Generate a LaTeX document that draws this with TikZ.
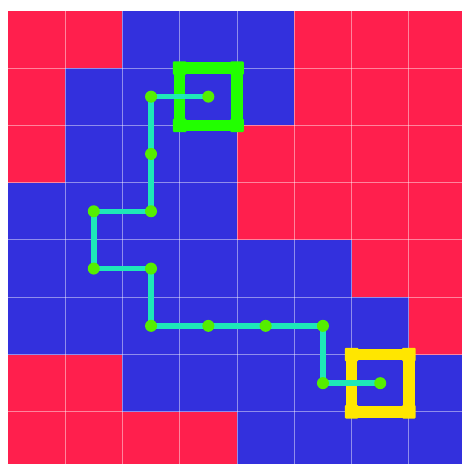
\documentclass[tikz,border=0pt]{standalone}
\definecolor{cellred}{RGB}{255,31,77}
\definecolor{cellblue}{RGB}{51,48,221}
\definecolor{pathteal}{RGB}{30,232,184}
\definecolor{dotgreen}{RGB}{85,238,0}
\definecolor{boxgreen}{RGB}{34,255,0}
\definecolor{boxyellow}{RGB}{255,230,0}
\tikzset{
  dotnode/.style={circle,fill=dotgreen,inner sep=0pt,minimum size=12pt},
  route/.style={draw=pathteal,line width=5.5pt},
  gridline/.style={draw=white,draw opacity=0.45,line width=0.9pt},
  markbox/.style={line width=11.5pt},
  corner/.style={rectangle,inner sep=0pt,minimum size=13.5pt,rounded corners=1pt}
}
\begin{document}
\begin{tikzpicture}[x=1pt,y=-1pt]
\useasboundingbox (0,0) rectangle (462,464);
\fill[white] (0,0) rectangle (462,464);
\clip (0,0) rectangle (462,464);
\begin{scope}[shift={(7.8,10.7)},x=57.3pt,y=-57.3pt]
% cells: rows top to bottom
\foreach \row/\cols in {0/{R,R,B,B,B,R,R,R},1/{R,B,B,B,B,R,R,R},2/{R,B,B,B,R,R,R,R},3/{B,B,B,B,R,R,R,R},4/{B,B,B,B,B,B,R,R},5/{B,B,B,B,B,B,B,R},6/{R,R,B,B,B,B,B,B},7/{R,R,R,R,B,B,B,B}}{
  \foreach \c [count=\i from 0] in \cols {
    \if\c R\def\cc{cellred}\else\def\cc{cellblue}\fi
    \fill[\cc] (\i,\row) rectangle (\i+1,\row+1);
  }
}
\foreach \k in {0,...,8}{
  \draw[gridline] (\k,0) -- (\k,8.2);
  \draw[gridline] (0,\k) -- (8.2,\k);
}
% green goal box
\draw[markbox,draw=boxgreen] (3,1) rectangle (4,2);
\foreach \p [count=\n] in {(3,1),(4,1),(4,2),(3,2)}
  \node[corner,fill=boxgreen] (g\n) at \p {};
% yellow box
\draw[markbox,draw=boxyellow] (6,6) rectangle (7,7);
\foreach \p [count=\n] in {(6,6),(7,6),(7,7),(6,7)}
  \node[corner,fill=boxyellow] (y\n) at \p {};
% path points
\coordinate (p1) at (3.5,1.5);
\coordinate (p2) at (2.5,1.5);
\coordinate (p3) at (2.5,2.5);
\coordinate (p4) at (2.5,3.5);
\coordinate (p5) at (1.5,3.5);
\coordinate (p6) at (1.5,4.5);
\coordinate (p7) at (2.5,4.5);
\coordinate (p8) at (2.5,5.5);
\coordinate (p9) at (3.5,5.5);
\coordinate (p10) at (4.5,5.5);
\coordinate (p11) at (5.5,5.5);
\coordinate (p12) at (5.5,6.5);
\coordinate (p13) at (6.5,6.5);
\draw[route] (p1) -- (p2) -- (p3) -- (p4) -- (p5) -- (p6) -- (p7) -- (p8) -- (p9) -- (p10) -- (p11) -- (p12) -- (p13);
\foreach \n in {1,...,13}
  \node[dotnode] (d\n) at (p\n) {};
\end{scope}
\end{tikzpicture}
\end{document}
